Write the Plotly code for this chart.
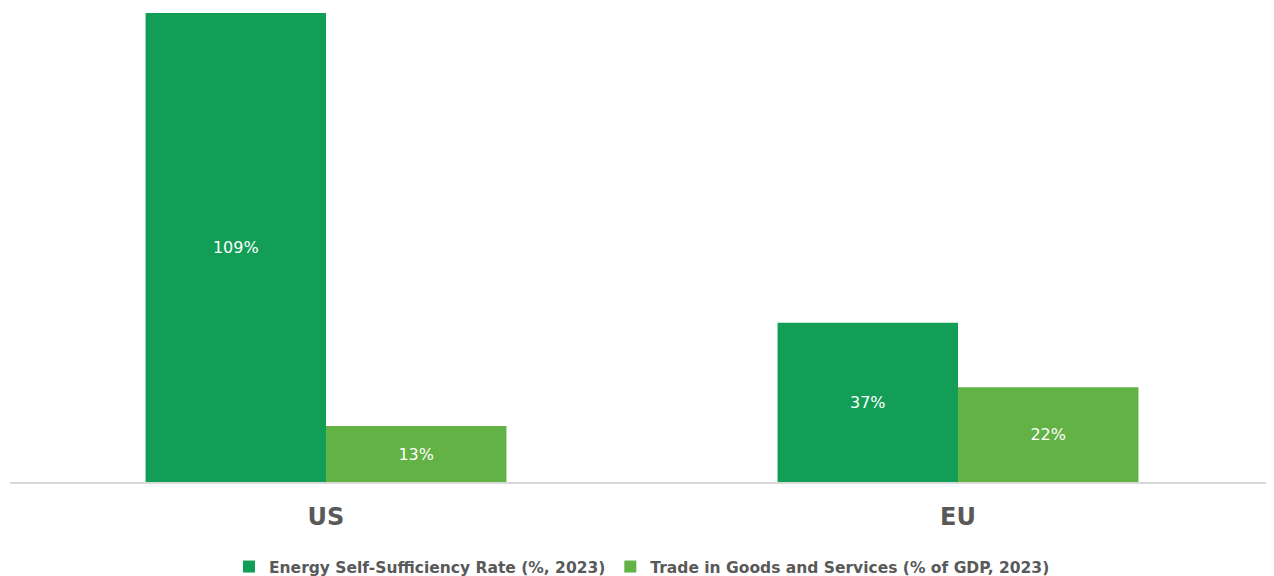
import plotly.graph_objects as go

categories = ["US", "EU"]
series_names = ["Energy Self-Sufficiency Rate (%, 2023)", "Trade in Goods and Services (% of GDP, 2023)"]
energy = [109, 37]
trade = [13, 22]
colors = ["#129E56", "#62B245"]

fig = go.Figure()
for name, vals, col in zip(series_names, [energy, trade], colors):
    fig.add_trace(go.Bar(
        x=categories, y=vals, name="<b>" + name + "</b>",
        marker=dict(color=col, line=dict(width=0)),
        text=[f"{v}%" for v in vals], textposition="inside", insidetextanchor="middle",
        textfont=dict(color="white", size=16, family="DejaVu Sans"),
        hoverinfo="skip",
    ))

fig.update_layout(
    width=1266, height=568,
    margin=dict(l=2, r=0, t=2, b=94, autoexpand=False),
    barmode="group", bargap=0.429, bargroupgap=0,
    plot_bgcolor="white", paper_bgcolor="white",
    font=dict(family="DejaVu Sans", color="#595959"),
    legend=dict(orientation="h", x=0.5, xanchor="center", y=-0.18, yanchor="middle",
                font=dict(size=15.5, color="#595959", family="DejaVu Sans"),
                itemwidth=30, traceorder="normal", bgcolor="rgba(0,0,0,0)"),
    xaxis=dict(showline=True, linecolor="#D9D9D9", linewidth=2, ticks="",
               tickfont=dict(size=24, color="#595959", family="DejaVu Sans"),
               ticklabelstandoff=12, showgrid=False,
               tickprefix="<b>", ticksuffix="</b>"),
    yaxis=dict(range=[0, 109.7], visible=False, showgrid=False),
)
fig.write_html("out.html")
